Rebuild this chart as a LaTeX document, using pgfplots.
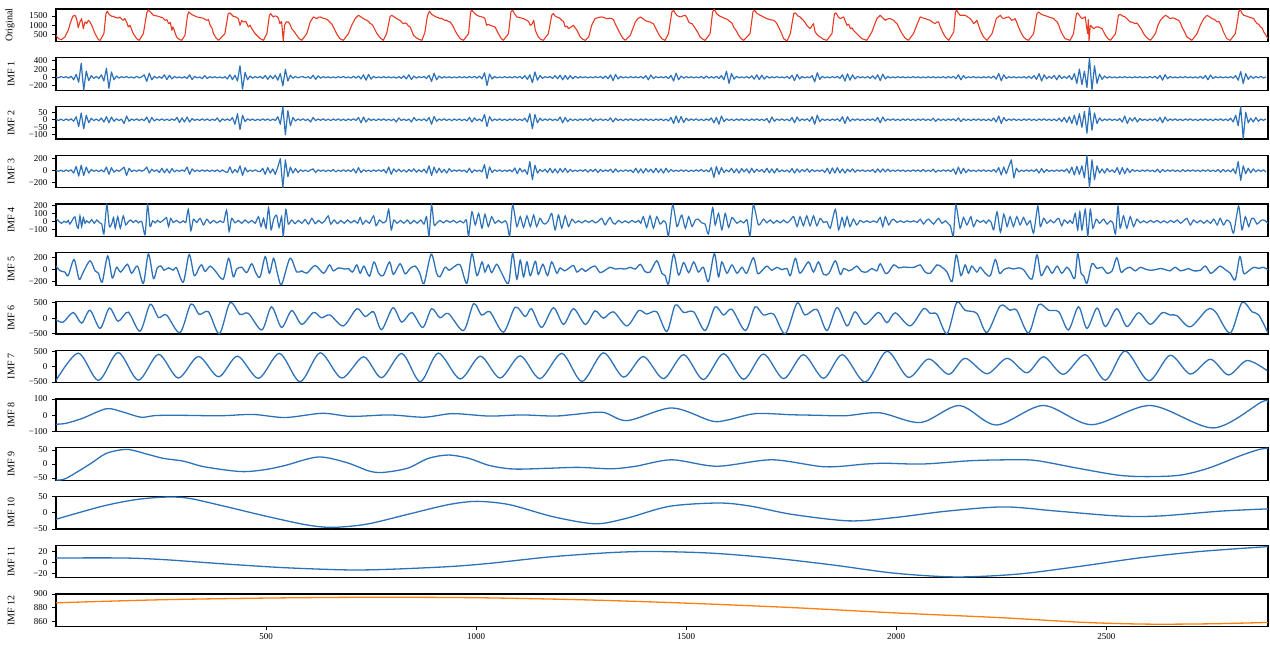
\documentclass[border=0pt]{standalone}
\usepackage{pgfplots}
\pgfplotsset{compat=1.18}
\usepackage{fontspec}
\setmainfont{Liberation Serif}
\definecolor{origred}{RGB}{232,58,35}
\definecolor{imfblue}{RGB}{45,114,184}
\definecolor{imforange}{RGB}{255,127,14}
\pgfplotsset{
  panel/.style={
    anchor=north west,
    width=1212pt, height=32.5pt, scale only axis,
    xmin=0, xmax=2885,
    xtick=\empty,
    ytick pos=left,
    tick align=outside,
    major tick length=3.5pt,
    every tick/.style={black, line width=0.8pt},
    axis line style={black, line width=1.2pt},
    tick label style={font=\fontsize{9}{10}\selectfont},
    yticklabel style={xshift=-1.5pt},
    every axis y label/.style={at={(rel axis cs:0,0.5)}, rotate=90, anchor=south, yshift=38pt, font=\fontsize{10}{12}\selectfont},
  },
  noisy/.style={imfblue, line width=1.2pt, line join=round},
  smoothb/.style={imfblue, line width=1.3pt, smooth},
}
\begin{document}
\begin{tikzpicture}
\useasboundingbox (0,0) rectangle (1270pt,-650pt);
% ---------- Original ----------
\begin{axis}[panel, at={(56pt,-9pt)}, ymin=110, ymax=1880, ytick={500,1000,1500}, yticklabels={500,1000,1500}, ylabel={Original}]
\addplot[origred, line width=1.1pt, line join=round] coordinates {
(0,446) (6,264) (13,210) (21,355) (29,719) (35,1174) (40,1484) (45,1538) (49,1356) (53,865) (57,1174) (61,1356) (65,810) (69,1174) (73,1083) (77,1265) (81,1174) (85,992) (93,537) (101,210)
(105,173) (114,537) (119,1629) (122,1757) (126,1600) (129,1538) (133,1480) (137,1484) (141,1420) (144,1411) (148,1380) (152,1447) (156,1330) (160,1265) (164,1356) (168,1174) (172,901) (176,992) (184,537) (192,264) (198,173)
(208,537) (216,1666) (220,1830) (226,1680) (232,1538) (240,1500) (248,1447) (254,1400) (260,1265) (264,1300) (268,1083) (272,1150) (276,719) (278,900) (280,810) (287,355) (293,230) (299,173)
(307,446) (313,1538) (316,1720) (322,1600) (327,1538) (335,1450) (343,1411) (350,1380) (359,1265) (363,1300) (367,992) (371,850) (375,537) (381,300) (387,173)
(402,537) (410,1629) (414,1666) (422,1484) (428,1450) (434,1356) (438,992) (442,1250) (446,1174) (452,1200) (458,901) (462,1000) (466,810) (474,537) (486,264) (494,173)
(502,537) (508,1538) (511,1629) (517,1447) (521,1500) (525,1484) (529,1400) (533,1083) (537,1200) (541,137) (544,1000) (548,1174) (553,1174) (557,1050) (561,810) (567,650) (573,446) (579,264) (585,173)
(597,537) (605,1174) (613,1447) (617,1400) (621,1356) (625,1430) (629,1447) (635,1380) (641,1356) (645,1300) (648,1265) (652,1150) (656,1083) (664,719) (670,450) (676,264) (684,173)
(696,537) (704,1000) (712,1356) (720,1538) (726,1450) (732,1356) (736,1300) (740,1265) (744,1200) (748,1083) (752,1050) (756,901) (764,537) (772,300) (779,173)
(787,537) (795,1447) (799,1538) (805,1450) (811,1356) (815,1300) (819,1265) (823,1150) (827,1083) (831,1120) (835,1083) (839,950) (843,901) (851,446) (858,300) (866,210) (871,173)
(878,600) (884,1500) (889,1760) (894,1600) (898,1538) (904,1450) (910,1411) (914,1356) (918,1380) (922,1300) (926,1265) (930,1265) (934,1200) (938,1174) (942,1050) (946,901) (950,700) (954,537) (962,264) (970,173)
(982,537) (987,1720) (990,1811) (996,1650) (1002,1538) (1008,1480) (1014,1447) (1018,1420) (1021,1356) (1025,992) (1029,1050) (1033,992) (1039,950) (1045,901) (1053,537) (1059,300) (1065,173)
(1077,537) (1083,1720) (1087,1811) (1092,1600) (1097,1447) (1105,1400) (1113,1356) (1117,1300) (1121,1265) (1125,1200) (1129,992) (1133,1050) (1137,1265) (1141,719) (1148,355) (1154,230) (1160,173)
(1172,537) (1180,1538) (1184,1629) (1188,1500) (1192,1447) (1198,1400) (1204,1265) (1208,1200) (1212,901) (1216,950) (1220,810) (1226,900) (1232,992) (1236,850) (1240,719) (1248,355) (1254,230) (1260,173)
(1268,355) (1275,992) (1283,1356) (1291,1420) (1299,1447) (1305,1400) (1311,1356) (1317,1380) (1323,1356) (1327,1300) (1331,1083) (1337,800) (1343,537) (1349,300) (1355,173)
(1367,446) (1379,1174) (1385,1350) (1391,1447) (1397,1350) (1402,1265) (1408,1200) (1414,1174) (1418,1120) (1422,1083) (1426,900) (1430,719) (1436,450) (1442,264) (1450,173)
(1458,537) (1466,1720) (1470,1811) (1474,1650) (1478,1538) (1482,1480) (1486,1447) (1492,1500) (1498,1538) (1502,1400) (1506,1174) (1510,1100) (1514,1083) (1518,950) (1522,810) (1528,600) (1533,355) (1540,230) (1545,173)
(1557,537) (1563,1720) (1567,1866) (1572,1650) (1577,1538) (1581,1480) (1585,1447) (1589,1400) (1593,1356) (1599,1300) (1605,1174) (1609,1120) (1613,901) (1619,700) (1625,446) (1631,264) (1637,173)
(1652,537) (1659,1720) (1663,1811) (1668,1650) (1676,1538) (1684,1450) (1692,1356) (1700,1300) (1708,1265) (1712,1200) (1716,1083) (1724,719) (1732,264) (1740,137)
(1748,537) (1756,1629) (1760,1666) (1766,1500) (1771,1447) (1775,1350) (1779,1265) (1783,1150) (1787,992) (1791,900) (1795,810) (1799,950) (1803,1083) (1807,629) (1813,450) (1819,355) (1827,230) (1835,173)
(1847,537) (1853,1629) (1857,1666) (1862,1450) (1867,1356) (1871,1400) (1875,1447) (1879,1200) (1883,992) (1887,1050) (1891,810) (1895,850) (1898,719) (1906,537) (1912,400) (1918,264) (1930,173)
(1942,629) (1948,1000) (1954,1356) (1958,1450) (1962,1538) (1968,1400) (1974,1265) (1978,1320) (1982,1356) (1986,1356) (1990,1300) (1994,1265) (1998,1150) (2002,1083) (2008,800) (2014,537) (2021,300) (2029,173)
(2041,537) (2049,1000) (2057,1447) (2063,1400) (2069,1356) (2075,1300) (2081,1265) (2087,1150) (2093,1083) (2097,1174) (2101,1174) (2105,901) (2111,600) (2117,355) (2125,173)
(2137,629) (2141,1720) (2144,1811) (2148,1650) (2152,1538) (2158,1538) (2164,1538) (2170,1450) (2176,1356) (2180,1250) (2184,1083) (2188,1150) (2192,1265) (2196,1000) (2200,719) (2208,355) (2216,173)
(2228,537) (2234,1000) (2238,1356) (2243,1450) (2248,1538) (2252,1400) (2256,1356) (2262,1420) (2268,1447) (2272,1350) (2275,1265) (2280,1300) (2283,1356) (2287,1150) (2291,901) (2297,600) (2303,355) (2309,230) (2315,173)
(2327,537) (2335,1629) (2339,1720) (2345,1600) (2351,1538) (2357,1500) (2363,1447) (2369,1400) (2375,1356) (2379,1250) (2383,1174) (2387,1000) (2391,719) (2397,450) (2402,264) (2414,173)
(2422,537) (2429,1629) (2432,1666) (2437,1500) (2442,1356) (2446,1400) (2450,1447) (2453,900) (2456,537) (2457,1300) (2459,137) (2462,992) (2466,900) (2470,810) (2476,900) (2482,901) (2486,850) (2490,810) (2498,446) (2504,264) (2510,173)
(2522,537) (2529,1538) (2533,1593) (2539,1500) (2545,1447) (2551,1300) (2557,1174) (2563,1150) (2569,1083) (2573,1120) (2577,992) (2583,800) (2589,537) (2597,300) (2605,173)
(2617,537) (2623,1000) (2629,1265) (2635,1420) (2641,1538) (2647,1450) (2652,1356) (2658,1400) (2664,1356) (2668,1300) (2672,1265) (2676,1150) (2680,901) (2686,650) (2692,355) (2704,173)
(2716,537) (2724,1000) (2732,1356) (2736,1450) (2740,1538) (2746,1450) (2752,1356) (2758,1300) (2764,1174) (2768,1200) (2771,1083) (2775,900) (2779,629) (2787,264) (2795,173)
(2807,537) (2813,1300) (2815,1720) (2819,1848) (2823,1650) (2827,1538) (2833,1500) (2839,1447) (2845,1400) (2851,1356) (2855,1200) (2859,1083) (2863,1050) (2867,901) (2871,850) (2875,629) (2880,450) (2885,264)
};
\end{axis}
% ---------- IMF 1 ----------
\begin{axis}[panel, at={(56pt,-57.75pt)}, ymin=-315, ymax=475, ytick={-200,0,200,400}, yticklabels={−200,0,200,400}, ylabel={IMF 1}]
\addplot[noisy] table[x expr=\coordindex*6, y index=0, header=false, row sep=\\] {
10\\-15\\20\\-10\\15\\-20\\25\\-60\\70\\-120\\340\\-310\\150\\-80\\40\\-25\\20\\-30\\60\\-90\\
220\\-270\\130\\-60\\30\\-20\\15\\-10\\20\\-15\\10\\-20\\25\\-15\\12\\60\\-100\\100\\-60\\25\\
-20\\15\\-25\\60\\-55\\50\\-40\\20\\-15\\10\\-20\\15\\-30\\60\\-55\\25\\-15\\10\\-35\\40\\
-30\\15\\-10\\12\\-15\\10\\-20\\15\\-40\\60\\-55\\50\\-90\\280\\-290\\120\\-60\\30\\-20\\15\\
-10\\20\\-30\\45\\-50\\40\\-35\\50\\-70\\90\\-210\\195\\-90\\50\\-25\\20\\-15\\10\\12\\-15\\
15\\-30\\50\\-50\\35\\-20\\15\\-10\\12\\-15\\10\\-12\\15\\-10\\20\\-15\\10\\-20\\25\\-20\\
30\\-40\\60\\-70\\70\\-45\\25\\-15\\10\\-12\\15\\-10\\12\\-15\\10\\-20\\15\\-25\\35\\-40\\
60\\-55\\30\\-20\\15\\-10\\20\\-30\\50\\-100\\100\\-60\\30\\-20\\15\\-10\\12\\-15\\10\\-12\\
15\\-10\\12\\-15\\20\\-15\\25\\-20\\30\\-40\\110\\-200\\80\\-40\\20\\-15\\10\\-12\\15\\-10\\
12\\-15\\20\\-15\\25\\-30\\40\\-50\\60\\-130\\130\\-70\\40\\-25\\15\\-10\\20\\-30\\40\\-35\\
50\\-60\\45\\-50\\40\\-35\\25\\-20\\15\\-10\\12\\-15\\10\\-12\\15\\-10\\20\\-25\\30\\-35\\
60\\-80\\70\\-40\\20\\-15\\10\\-12\\15\\-10\\12\\-15\\20\\-25\\40\\-60\\55\\-30\\15\\-10\\
12\\-15\\20\\-30\\45\\-90\\100\\-60\\30\\-20\\15\\-10\\12\\-15\\10\\-12\\20\\-25\\30\\-20\\
15\\-20\\25\\-30\\40\\-60\\150\\-150\\90\\-45\\25\\-15\\10\\-12\\15\\-20\\35\\-45\\60\\-55\\
50\\-45\\30\\-20\\12\\-10\\15\\-12\\10\\-15\\20\\-30\\50\\-80\\70\\-40\\20\\-15\\10\\-12\\
40\\-110\\110\\-50\\25\\-15\\10\\-12\\15\\-10\\20\\-30\\60\\-90\\85\\-70\\60\\-40\\25\\-15\\
12\\-15\\20\\-25\\35\\-40\\60\\-80\\75\\-40\\20\\-15\\10\\-12\\15\\-10\\12\\-15\\10\\-12\\
15\\-10\\12\\-15\\10\\-12\\15\\-10\\12\\-15\\10\\-12\\15\\-20\\20\\-15\\25\\-35\\60\\-60\\
40\\-20\\12\\-10\\15\\-12\\10\\-15\\12\\-10\\15\\-20\\30\\-45\\90\\-85\\60\\-30\\15\\-10\\
12\\-15\\10\\-12\\15\\-20\\25\\-30\\40\\-50\\90\\-90\\60\\-35\\20\\-25\\45\\-60\\50\\-30\\
20\\-25\\40\\-60\\90\\-150\\200\\-180\\150\\-250\\470\\-310\\280\\-150\\80\\-50\\30\\-20\\15\\-12\\
10\\-15\\12\\-10\\15\\-12\\10\\-15\\12\\-10\\15\\-12\\10\\-15\\20\\-15\\25\\-30\\45\\-70\\
65\\-35\\20\\-12\\10\\-15\\12\\-10\\15\\-12\\10\\-15\\12\\-20\\25\\-30\\45\\-60\\55\\-30\\
15\\-10\\12\\-15\\10\\-12\\15\\-20\\40\\-70\\140\\-150\\90\\-50\\30\\-25\\20\\-15\\25\\-20\\
10\\
};
\end{axis}
% ---------- IMF 2 ----------
\begin{axis}[panel, at={(56pt,-106.5pt)}, ymin=-128, ymax=88, ytick={-100,-50,0,50}, yticklabels={−100,−50,0,50}, ylabel={IMF 2}]
\addplot[noisy] table[x expr=\coordindex*6, y index=0, header=false, row sep=\\] {
3\\-5\\4\\-6\\5\\-4\\6\\-10\\20\\-45\\45\\-60\\30\\-20\\10\\-6\\5\\-8\\12\\-15\\
20\\-20\\18\\-10\\6\\-5\\4\\-25\\25\\-10\\5\\-4\\6\\-5\\4\\-6\\18\\-20\\15\\-8\\
5\\-4\\6\\-5\\4\\-6\\5\\-4\\15\\-18\\12\\-15\\18\\-15\\8\\-5\\4\\-5\\6\\-4\\
5\\-6\\4\\-5\\12\\-14\\6\\-4\\5\\-6\\15\\-30\\40\\-65\\30\\-12\\6\\-4\\5\\-6\\
4\\-5\\6\\-4\\5\\-6\\4\\-5\\20\\-30\\86\\-100\\60\\-40\\15\\-8\\5\\-4\\6\\-5\\
4\\-15\\15\\-6\\5\\-4\\6\\-5\\4\\-6\\5\\-4\\6\\-5\\4\\-6\\5\\-4\\6\\-5\\
15\\-20\\18\\-15\\8\\-5\\4\\-6\\5\\-4\\6\\-5\\4\\-6\\5\\-15\\12\\-5\\4\\-6\\
5\\-15\\15\\-6\\4\\-5\\6\\-8\\15\\-30\\22\\-10\\5\\-4\\6\\-5\\4\\-6\\5\\-4\\
5\\-6\\4\\-8\\15\\-15\\12\\-6\\5\\-10\\35\\-45\\20\\-8\\5\\-4\\6\\-5\\4\\-6\\
5\\-4\\6\\-5\\4\\-6\\10\\-15\\40\\-60\\35\\-20\\10\\-6\\5\\-4\\6\\-5\\4\\-6\\
18\\-20\\15\\-12\\6\\-5\\4\\-6\\5\\-4\\6\\-5\\10\\-10\\5\\-4\\6\\-5\\4\\-6\\
12\\-15\\10\\-5\\4\\-6\\5\\-4\\6\\-5\\4\\-6\\5\\-4\\6\\-5\\4\\-6\\5\\-4\\
5\\-6\\4\\-8\\15\\-25\\25\\-20\\22\\-18\\10\\-6\\5\\-4\\6\\-5\\4\\-6\\5\\-4\\
12\\-20\\15\\-30\\25\\-12\\6\\-5\\4\\-6\\5\\-4\\6\\-5\\4\\-6\\5\\-4\\6\\-5\\
4\\-6\\8\\-20\\18\\-10\\5\\-4\\6\\-5\\4\\-8\\15\\-20\\18\\-8\\5\\-4\\6\\-10\\
20\\-30\\30\\-12\\6\\-5\\4\\-6\\5\\-4\\6\\-10\\20\\-25\\20\\-10\\5\\-4\\6\\-5\\
4\\-6\\5\\-4\\6\\-8\\15\\-20\\18\\-8\\5\\-4\\6\\-5\\4\\-6\\5\\-4\\6\\-5\\
4\\-6\\5\\-4\\6\\-5\\4\\-6\\10\\-10\\6\\-5\\4\\-6\\5\\-4\\6\\-8\\12\\-12\\
6\\-5\\4\\-6\\5\\-4\\6\\-5\\4\\-6\\5\\-8\\12\\-15\\25\\-25\\15\\-8\\5\\-4\\
6\\-5\\4\\-6\\5\\-4\\6\\-5\\4\\-6\\5\\-4\\6\\-5\\4\\-6\\5\\-8\\10\\-12\\
15\\-18\\20\\-25\\30\\-35\\40\\-50\\55\\-90\\86\\-70\\45\\-25\\12\\-8\\5\\-4\\6\\-5\\
4\\-6\\8\\-15\\25\\-25\\12\\-8\\15\\-15\\8\\-5\\4\\-6\\5\\-4\\6\\-10\\15\\-20\\
18\\-8\\5\\-4\\6\\-5\\4\\-6\\5\\-4\\6\\-5\\4\\-6\\5\\-4\\6\\-5\\4\\-6\\
5\\-4\\6\\-5\\4\\-6\\10\\-15\\30\\-40\\86\\-126\\50\\-20\\10\\-15\\15\\-10\\5\\-4\\
5\\
};
\end{axis}
% ---------- IMF 3 ----------
\begin{axis}[panel, at={(56pt,-155.25pt)}, ymin=-282, ymax=255, ytick={-200,0,200}, yticklabels={−200,0,200}, ylabel={IMF 3}]
\addplot[noisy] table[x expr=\coordindex*6, y index=0, header=false, row sep=\\] {
5\\-10\\8\\-15\\12\\-10\\15\\-40\\70\\-90\\90\\-80\\60\\-40\\20\\-12\\10\\-15\\12\\-20\\
60\\-60\\50\\-25\\12\\-10\\20\\60\\-80\\40\\-15\\10\\-12\\15\\-10\\12\\60\\-40\\25\\-12\\
15\\-30\\40\\-35\\30\\-40\\35\\-20\\10\\-12\\15\\-10\\60\\-60\\30\\-15\\10\\-12\\15\\-10\\
12\\-15\\10\\-12\\15\\-20\\12\\-15\\-30\\60\\-40\\20\\-30\\80\\-80\\50\\-20\\10\\-12\\15\\
-10\\-15\\40\\-60\\50\\-40\\30\\-60\\60\\200\\-280\\180\\-100\\60\\-40\\35\\-30\\15\\-12\\10\\
-15\\12\\30\\-30\\15\\-10\\12\\-15\\10\\-12\\20\\-20\\10\\-12\\15\\-10\\12\\-15\\30\\-40\\
50\\-30\\15\\-12\\10\\-15\\12\\-10\\15\\-12\\20\\-40\\60\\-60\\30\\-20\\25\\-20\\15\\-25\\
20\\-15\\30\\-25\\15\\-20\\25\\-40\\80\\-80\\60\\-40\\40\\-30\\20\\-40\\35\\-15\\12\\-10\\
15\\-12\\10\\-30\\40\\-35\\15\\-12\\10\\-20\\100\\-130\\60\\-30\\15\\-10\\12\\-15\\10\\-12\\
15\\-20\\45\\-50\\40\\-20\\15\\-60\\150\\-150\\90\\-40\\20\\-15\\25\\-30\\40\\-35\\30\\-40\\
35\\-25\\40\\-30\\20\\-15\\10\\-12\\15\\-10\\20\\-25\\20\\-15\\25\\-30\\20\\-15\\12\\-10\\
25\\-30\\30\\-20\\10\\-12\\15\\-10\\12\\-30\\40\\-35\\30\\-40\\35\\-20\\25\\-35\\40\\-30\\
30\\-40\\40\\-25\\20\\-15\\10\\-12\\15\\-10\\12\\-15\\10\\-12\\15\\-10\\20\\-15\\12\\-20\\
50\\-110\\70\\-60\\50\\-30\\15\\-20\\40\\-35\\30\\-40\\35\\-20\\30\\-40\\40\\-30\\25\\-15\\
20\\-30\\40\\-35\\30\\-40\\35\\-20\\12\\-15\\10\\-25\\35\\-40\\30\\-25\\20\\-15\\30\\-25\\
20\\-15\\10\\-12\\15\\-30\\40\\-50\\45\\-40\\50\\-35\\30\\-40\\25\\-20\\30\\-25\\15\\-10\\
12\\-15\\10\\-12\\20\\-30\\30\\-25\\30\\-20\\25\\-15\\10\\-12\\15\\-10\\12\\-15\\10\\-12\\
15\\-10\\12\\-15\\20\\-15\\10\\-12\\25\\-25\\10\\-12\\15\\-10\\12\\-15\\30\\-60\\60\\-50\\
40\\-35\\20\\-12\\10\\-15\\12\\-10\\15\\-12\\10\\-15\\20\\-25\\50\\-70\\60\\-50\\70\\180\\
-120\\40\\-20\\10\\-12\\15\\-10\\12\\-15\\25\\-40\\35\\-30\\20\\-15\\10\\-12\\15\\-10\\12\\
-15\\30\\-40\\60\\-70\\70\\-60\\80\\-120\\253\\-280\\180\\-150\\80\\-40\\30\\-40\\35\\-20\\15\\
-30\\50\\-60\\50\\-50\\40\\-30\\20\\-12\\10\\-15\\12\\-10\\15\\-12\\10\\-20\\25\\-30\\20\\
-15\\12\\-10\\15\\-12\\10\\-20\\20\\-15\\12\\-10\\15\\-12\\10\\-15\\12\\-10\\15\\-12\\10\\
-15\\20\\-25\\20\\-15\\12\\-20\\30\\-50\\150\\-160\\80\\-50\\40\\-35\\30\\-20\\15\\-12\\15\\
-20\\
};
\end{axis}
% ---------- IMF 4 ----------
\begin{axis}[panel, at={(56pt,-204pt)}, ymin=-182, ymax=216, ytick={-100,0,100,200}, yticklabels={−100,0,100,200}, ylabel={IMF 4}]
\addplot[imfblue, line width=1.2pt, smooth, tension=0.4] coordinates {
(0,40) (6,10) (13,-20) (19,5) (25,-10) (29,15) (33,-30) (39,20) (45,60) (49,-40) (53,-80) (57,70) (61,-60) (65,50) (69,-20) (73,10) (79,-15) (85,25) (91,-20) (97,20) (103,-10) (109,-30) (114,-150) (121,205) (127,-60) (133,-20) (137,50) (141,-80) (147,60) (153,-80) (160,70) (166,-40) (172,0) (178,20) (184,-10) (190,15) (196,-15) (204,5) (212,-160) (218,205) (224,-60) (230,10) (236,-15) (242,15) (248,-10) (256,20) (263,50) (268,-60) (273,40) (279,-10) (287,15) (295,-15) (303,10) (309,-10) (315,150) (321,-110) (327,30) (335,-10) (343,40) (351,-40) (359,30) (367,-20) (375,15) (383,-15) (391,10) (399,-10) (406,140) (412,-120) (418,40) (426,-15) (434,15) (442,-20) (450,20) (458,-15) (466,15) (474,-20) (482,60) (488,-60) (494,40) (500,-80) (506,170) (512,-100) (518,30) (525,80) (531,-70) (537,60) (541,-175) (547,150) (553,-30) (561,20) (569,-25) (577,15) (585,-20) (593,25) (601,-30) (609,40) (617,-25) (625,15) (633,-20) (641,20) (648,70) (654,-30) (662,20) (670,-25) (678,15) (686,-20) (694,20) (702,-15) (710,15) (718,-20) (724,50) (730,-30) (738,15) (746,-20) (756,70) (762,-50) (770,20) (778,-15) (786,10) (792,150) (798,-100) (804,20) (812,-20) (820,15) (828,-20) (836,20) (844,-25) (852,15) (860,-20) (868,20) (876,-30) (882,60) (888,-175) (894,205) (900,-40)
(906,-20) (914,15) (922,-15) (930,15) (938,-10) (946,15) (954,-15) (962,10) (970,-15) (977,20) (982,-175) (990,120) (998,-40) (1006,100) (1014,-80) (1021,90) (1029,-60) (1037,60) (1045,-20) (1053,15) (1061,-15) (1069,10) (1074,-30) (1080,-175) (1087,205) (1097,-60) (1105,60) (1113,-70) (1121,70) (1129,-60) (1137,80) (1144,-60) (1152,40) (1158,-10) (1164,-30) (1172,10) (1180,100) (1188,-100) (1196,80) (1204,-80) (1212,70) (1220,-60) (1228,30) (1236,-15) (1244,10) (1252,-15) (1260,15) (1268,-10) (1276,15) (1284,-15) (1292,10) (1299,40) (1307,-40) (1313,10) (1319,50) (1325,-10) (1331,-30) (1339,15) (1347,-15) (1355,10) (1363,-15) (1371,15) (1379,-10) (1387,15) (1392,-20) (1398,60) (1406,-70) (1414,70) (1422,-80) (1430,60) (1438,-30) (1446,10) (1452,-20) (1458,-175) (1468,205) (1478,-60) (1485,30) (1490,80) (1498,-80) (1506,60) (1514,-60) (1522,20) (1529,30) (1537,-15) (1545,-30) (1553,-150) (1563,170) (1569,-40) (1577,100) (1585,-100) (1593,100) (1601,-70) (1609,50) (1621,-20) (1629,10) (1637,-15) (1645,20) (1652,-175) (1660,205) (1672,-40) (1684,30) (1692,-15) (1700,20) (1708,-20) (1716,15) (1724,-15) (1732,20) (1740,-15) (1748,20) (1756,60) (1764,-60) (1771,60) (1779,-50) (1787,70) (1795,-50) (1803,70) (1811,-50) (1819,40) (1827,-10) (1835,0) (1843,-80) (1855,150) (1863,-100) (1871,50)
(1877,-60) (1883,60) (1890,-60) (1898,30) (1906,-40) (1914,15) (1922,-10) (1930,10) (1938,-10) (1946,10) (1954,-10) (1962,50) (1968,-60) (1974,60) (1982,-40) (1988,10) (1994,30) (2002,-10) (2010,10) (2018,-10) (2026,10) (2034,-5) (2042,10) (2050,-10) (2057,30) (2065,-30) (2071,10) (2077,30) (2083,0) (2089,-30) (2095,10) (2101,40) (2109,-20) (2117,10) (2123,-20) (2129,-50) (2136,-175) (2142,205) (2152,-80) (2160,50) (2168,-40) (2174,20) (2178,60) (2184,-60) (2192,20) (2200,-10) (2208,15) (2214,-20) (2220,20) (2226,-10) (2232,-100) (2240,120) (2248,-130) (2256,90) (2264,-60) (2271,60) (2279,-60) (2287,60) (2295,-40) (2303,50) (2311,-40) (2319,10) (2327,-140) (2337,190) (2343,-60) (2351,40) (2359,-20) (2367,20) (2375,-15) (2381,20) (2387,40) (2394,-50) (2400,20) (2408,-20) (2414,15) (2420,-20) (2426,100) (2432,-100) (2437,120) (2442,-100) (2450,150) (2456,-175) (2462,150) (2468,-80) (2476,30) (2484,-20) (2490,15) (2494,30) (2502,-30) (2510,10) (2516,-20) (2522,-150) (2528,190) (2533,-80) (2541,70) (2549,-80) (2557,60) (2565,-60) (2573,30) (2581,-15) (2589,10) (2597,-15) (2605,15) (2613,-10) (2621,15) (2629,-15) (2637,10) (2645,-15) (2653,15) (2661,-10) (2669,20) (2677,-20) (2685,15) (2692,40) (2700,-40) (2708,20) (2716,-15) (2724,15) (2732,-20) (2740,15) (2748,-20) (2756,30) (2764,-40) (2771,40) (2779,-40) (2787,20) (2795,-10) (2803,-140) (2815,190) (2823,-100) (2831,60) (2839,-60) (2845,30) (2851,40) (2859,-30) (2867,10) (2875,20) (2885,-20)
};
\end{axis}
% ---------- IMF 5 ----------
\begin{axis}[panel, at={(56pt,-252.75pt)}, ymin=-263, ymax=285, ytick={-200,0,200}, yticklabels={−200,0,200}, ylabel={IMF 5}]
\addplot[smoothb] coordinates {
(0,60) (10,-20) (21,-40) (29,-100) (43,170) (55,-160) (65,-40) (81,150) (93,-20) (101,-60) (110,-210) (123,230) (134,-140) (144,40) (154,-40) (170,90) (180,-60) (194,60) (208,-230) (220,265) (232,-150) (241,30) (250,60) (257,-10) (268,30) (279,-10) (287,30) (303,-210) (317,255) (329,-100) (341,40) (347,80) (355,-30) (367,60) (379,-20) (398,-160) (411,190) (422,-120) (430,10) (442,40) (454,-50) (466,100) (476,-60) (486,-120) (498,220) (508,-60) (518,190) (527,-60) (537,-250) (557,190) (573,-40) (585,-20) (597,-60) (617,70) (637,-60) (651,80) (660,-20) (672,30) (688,10) (696,20) (706,-40) (716,80) (724,-60) (733,60) (746,-110) (757,130) (768,-60) (779,-100) (794,130) (803,-80) (819,100) (831,-70) (843,20) (855,60) (866,-60) (876,-235) (893,260) (906,-60) (914,-120) (926,40) (936,-10) (946,40) (962,80) (978,-230) (990,270) (1002,-100) (1014,130) (1021,-40) (1029,80) (1037,-50) (1049,90) (1061,-60) (1077,-230) (1087,270) (1097,-160) (1105,160) (1113,-120) (1121,130) (1129,-100) (1141,140) (1148,-80) (1159,90) (1170,-100) (1180,130) (1192,-60) (1200,30) (1210,-20) (1220,20) (1232,70) (1240,-40) (1252,20) (1260,-30) (1268,10) (1283,60) (1295,-50) (1307,-10) (1319,40) (1331,10) (1343,20) (1355,10) (1367,40) (1379,10) (1391,90) (1402,-30) (1414,-40) (1430,150) (1442,-60) (1450,-100) (1458,-240) (1470,260) (1482,-90) (1494,120) (1506,-50) (1518,130) (1529,-40) (1541,40) (1553,-200) (1567,270) (1577,-120) (1585,130) (1597,-60) (1609,80) (1621,-60) (1633,40) (1644,-60) (1660,200) (1670,-60) (1680,-20) (1692,60) (1704,-10) (1716,40) (1728,0) (1740,20) (1748,-100) (1760,190) (1771,-60) (1791,130) (1803,-40) (1815,130) (1827,-80) (1840,-60) (1855,150) (1867,-80) (1875,20) (1887,-20) (1895,0) (1906,60) (1918,-30) (1930,-40) (1942,20) (1954,-20) (1962,100) (1974,-60) (1982,-40) (1994,80) (2006,30) (2018,45) (2033,35) (2045,45) (2057,80) (2069,-40) (2081,-60) (2097,80) (2109,40) (2121,-40) (2133,-200) (2143,250) (2154,-100) (2164,80) (2172,-60) (2180,60) (2192,-40) (2200,40) (2212,-60) (2224,-100) (2236,170) (2246,-60) (2256,0) (2268,30) (2279,10) (2291,30) (2303,0) (2323,-160) (2335,250) (2345,-100) (2359,60) (2371,-60) (2383,60) (2394,-60) (2406,40) (2414,-20) (2425,-150) (2432,270) (2440,-60) (2446,-100) (2454,-230) (2466,100) (2478,20) (2490,40) (2502,-60) (2514,-20) (2525,200) (2535,-40) (2545,10) (2557,40) (2569,-20) (2581,40) (2593,10) (2605,-10) (2617,0) (2629,20) (2641,0) (2652,-20) (2664,40) (2676,-20) (2688,0) (2696,20) (2708,-20) (2724,-10) (2736,60) (2748,-60) (2756,-30) (2771,60) (2783,0) (2795,-60) (2807,-170) (2818,220) (2827,-60) (2839,-20) (2851,40) (2863,20) (2873,40) (2885,0)
};
\end{axis}
% ---------- IMF 6 ----------
\begin{axis}[panel, at={(56pt,-301.5pt)}, ymin=-510, ymax=532, ytick={-500,0,500}, yticklabels={−500,0,500}, ylabel={IMF 6}]
\addplot[smoothb] coordinates {
(0,-50) (17,-130) (41,180) (61,-160) (81,250) (105,-330) (127,320) (148,-100) (172,190) (200,-420) (224,440) (244,20) (263,100) (295,-470) (321,450) (341,120) (363,200) (389,-500) (414,490) (438,120) (458,150) (490,-380) (513,360) (537,-300) (561,240) (585,-200) (613,180) (632,10) (652,100) (684,-250) (716,300) (736,50) (756,200) (775,-370) (802,330) (823,-130) (847,180) (873,-300) (894,300) (914,10) (934,150) (970,-400) (994,460) (1013,100) (1033,200) (1065,-450) (1093,350) (1117,50) (1132,300) (1156,-300) (1184,330) (1208,-200) (1232,300) (1260,-200) (1283,230) (1303,0) (1327,200) (1359,-250) (1387,240) (1406,130) (1430,200) (1454,-430) (1474,420) (1494,180) (1518,200) (1545,-400) (1569,360) (1589,100) (1609,280) (1641,-400) (1664,360) (1684,100) (1708,130) (1736,-500) (1764,480) (1783,100) (1811,280) (1835,-400) (1859,340) (1883,-250) (1902,200) (1926,-200) (1958,180) (1978,-150) (1998,170) (2033,-250) (2065,300) (2081,150) (2097,120) (2121,-500) (2144,500) (2164,250) (2192,150) (2216,-460) (2248,400) (2271,250) (2287,250) (2315,-480) (2339,430) (2363,250) (2387,200) (2410,-380) (2434,360) (2454,-330) (2478,320) (2498,-270) (2525,300) (2549,-270) (2577,170) (2605,-200) (2633,170) (2652,100) (2668,80) (2700,-280) (2740,270) (2760,200) (2795,-480) (2823,500) (2847,200) (2863,100) (2885,-480)
};
\end{axis}
% ---------- IMF 7 ----------
\begin{axis}[panel, at={(56pt,-350.25pt)}, ymin=-523, ymax=533, ytick={-500,0,500}, yticklabels={−500,0,500}, ylabel={IMF 7}]
\addplot[smoothb] coordinates {
(0,-450) (53,440) (101,-450) (148,460) (196,-440) (244,400) (291,-370) (339,330) (387,-330) (432,340) (482,-380) (532,430) (581,-490) (629,450) (680,-370) (732,320) (775,-360) (823,430) (867,-490) (910,440) (962,-400) (1010,340) (1057,-370) (1105,350) (1152,-390) (1204,430) (1252,-480) (1303,450) (1351,-340) (1398,330) (1446,-390) (1494,390) (1541,-420) (1589,420) (1637,-410) (1684,410) (1732,-390) (1779,390) (1827,-380) (1872,390) (1926,-500) (1978,500) (2029,-350) (2077,250) (2125,-250) (2164,270) (2216,-230) (2264,270) (2311,-200) (2351,320) (2398,-250) (2450,390) (2498,-440) (2545,510) (2601,-460) (2652,370) (2700,-240) (2748,240) (2791,-270) (2835,200) (2883,-130)
};
\end{axis}
% ---------- IMF 8 ----------
\begin{axis}[panel, at={(56pt,-399pt)}, ymin=-100, ymax=100, ytick={-100,0,100}, yticklabels={−100,0,100}, ylabel={IMF 8}]
\addplot[smoothb] coordinates {
(0,-55) (23,-50) (62,-20) (120,40) (159,20) (202,-12) (236,-2) (285,0) (391,-3) (469,5) (546,-14) (634,12) (702,-7) (794,2) (876,-12) (944,10) (1031,-5) (1108,2) (1186,-5) (1234,5) (1302,18) (1360,-33) (1466,45) (1560,-35) (1597,-30) (1665,10) (1752,3) (1811,0) (1879,-3) (1961,15) (2058,-45) (2150,60) (2238,-60) (2350,60) (2465,-58) (2605,60) (2755,-78) (2870,82) (2885,80)
};
\end{axis}
% ---------- IMF 9 ----------
\begin{axis}[panel, at={(56pt,-447.75pt)}, ymin=-58, ymax=58, ytick={-50,0,50}, yticklabels={−50,0,50}, ylabel={IMF 9}]
\addplot[smoothb] coordinates {
(0,-57) (23,-52) (81,0) (120,38) (169,52) (217,35) (256,20) (304,10) (353,-10) (440,-27) (498,-20) (546,-5) (624,25) (692,5) (745,-25) (779,-30) (837,-15) (886,20) (934,32) (983,20) (1031,-5) (1089,-18) (1176,-15) (1244,-12) (1322,-17) (1380,-8) (1466,15) (1573,-8) (1704,15) (1830,-10) (1927,0) (1966,3) (2063,0) (2180,12) (2277,15) (2335,12) (2432,-15) (2529,-40) (2597,-45) (2675,-40) (2743,-15) (2820,30) (2864,52) (2885,56)
};
\end{axis}
% ---------- IMF 10 ----------
\begin{axis}[panel, at={(56pt,-496.5pt)}, ymin=-50, ymax=50, ytick={-50,0,50}, yticklabels={−50,0,50}, ylabel={IMF 10}]
\addplot[smoothb] coordinates {
(0,-20) (110,20) (188,40) (256,48) (314,45) (401,20) (498,-10) (595,-37) (658,-45) (740,-35) (837,-5) (934,25) (1002,35) (1079,25) (1176,-10) (1254,-30) (1300,-33) (1364,-15) (1461,20) (1578,30) (1655,20) (1752,-5) (1888,-25) (1995,-15) (2121,5) (2257,18) (2383,5) (2529,-10) (2626,-10) (2772,5) (2885,12)
};
\end{axis}
% ---------- IMF 11 ----------
\begin{axis}[panel, at={(56pt,-545.25pt)}, ymin=-28.5, ymax=31.5, ytick={-20,0,20}, yticklabels={−20,0,20}, ylabel={IMF 11}]
\addplot[smoothb] coordinates {
(0,8) (159,8) (256,5) (401,-3) (546,-10) (692,-14) (789,-13) (934,-8) (1031,-2) (1176,10) (1322,18) (1420,20) (1558,17) (1704,8) (1850,-5) (1995,-20) (2141,-27) (2286,-22) (2432,-8) (2578,8) (2723,20) (2885,29)
};
\end{axis}
% ---------- IMF 12 ----------
\begin{axis}[panel, at={(56pt,-594pt)}, ymin=852, ymax=900, ytick={860,880,900}, yticklabels={860,880,900}, ylabel={IMF 12},
  xtick={500,1000,1500,2000,2500}, xticklabels={500,1000,1500,2000,2500}, xtick pos=bottom]
\addplot[imforange, line width=1.3pt, smooth] coordinates {
(0,887) (250,891.5) (500,894) (750,895.2) (1000,894.5) (1250,891.5) (1500,886.5) (1750,880) (2000,872) (2250,865) (2450,858) (2600,855.5) (2750,856) (2885,858)
};
\end{axis}
\end{tikzpicture}
\end{document}
